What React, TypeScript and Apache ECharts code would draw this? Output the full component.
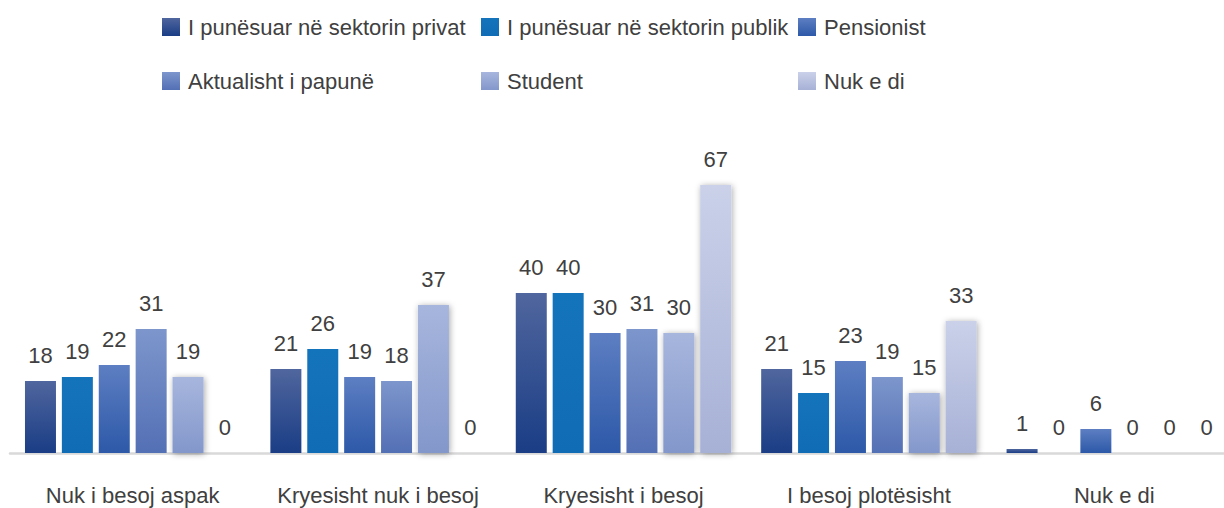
import React, { useEffect, useRef } from "react";
import * as echarts from "echarts";

const categories = ["Nuk i besoj aspak", "Kryesisht nuk i besoj", "Kryesisht i besoj", "I besoj plotësisht", "Nuk e di"];
const seriesNames = [
  "I punësuar në sektorin privat",
  "I punësuar në sektorin publik",
  "Pensionist",
  "Aktualisht i papunë",
  "Student",
  "Nuk e di",
];
const privat = [18, 21, 40, 21, 1];
const publik = [19, 26, 40, 15, 0];
const pensionist = [22, 19, 30, 23, 6];
const papune = [31, 18, 31, 19, 0];
const student = [19, 37, 30, 15, 0];
const nukEDi = [0, 0, 67, 33, 0];
const values = [privat, publik, pensionist, papune, student, nukEDi];

const gradients: [string, string][] = [
  ["#50669e", "#1a3d85"],
  ["#1474bb", "#106cb5"],
  ["#5d7ec2", "#2d59a8"],
  ["#7d96cc", "#5470b5"],
  ["#a7b6dd", "#8397cb"],
  ["#cad1e9", "#a7b1d6"],
];

const FONT = "'Liberation Sans Narrow', 'Liberation Sans', Arial, sans-serif";
const TEXT = "#404040";
const FS = 22;

export default function App() {
  const ref = useRef<HTMLDivElement>(null);
  useEffect(() => {
    if (!ref.current) return;
    const chart = echarts.init(ref.current, null, { renderer: "svg" });
    const series = seriesNames.map((name, i) => ({
      name,
      type: "bar",
      data: values[i],
      barWidth: 31,
      barGap: "19%",
      itemStyle: {
        color: new echarts.graphic.LinearGradient(0, 0, 0, 1, [
          { offset: 0, color: gradients[i][0] },
          { offset: 1, color: gradients[i][1] },
        ]),
        ...(i >= 4
          ? { shadowColor: "rgba(0,0,0,0.35)", shadowBlur: 6, shadowOffsetX: 1, shadowOffsetY: 1 }
          : {}),
      },
      label: {
        show: true,
        position: "top",
        distance: 15,
        color: TEXT,
        fontSize: FS,
        fontFamily: FONT,
      },
    }));
    const legendBase = {
      orient: "vertical",
      top: 7,
      itemWidth: 18,
      itemHeight: 18,
      itemGap: 24,
      icon: "rect",
      selectedMode: false,
      textStyle: { color: TEXT, fontSize: FS, fontFamily: FONT, lineHeight: 30, padding: [0, 0, 0, 3] },
    };
    chart.setOption({
      animation: false,
      backgroundColor: "#ffffff",
      legend: [
        { ...legendBase, left: 157, data: [seriesNames[0], seriesNames[3]] },
        { ...legendBase, left: 476, data: [seriesNames[1], seriesNames[4]] },
        { ...legendBase, left: 793, data: [seriesNames[2], seriesNames[5]] },
      ],
      grid: { left: 10, width: 1227, top: 133, bottom: 55, containLabel: false, outerBoundsMode: "none" },
      xAxis: {
        type: "category",
        data: categories,
        axisLine: { show: true, lineStyle: { color: "#d9d9d9", width: 2.5 } },
        axisTick: { show: false },
        axisLabel: { color: TEXT, fontSize: FS, fontFamily: FONT, margin: 31, interval: 0 },
      },
      yAxis: {
        type: "value",
        min: 0,
        max: 80,
        show: false,
        splitLine: { show: false },
      },
      series,
    });
    return () => chart.dispose();
  }, []);
  return (
    <div
      ref={ref}
      style={{ position: "fixed", left: 0, top: 0, width: 1224, height: 508, background: "#fff" }}
    />
  );
}
